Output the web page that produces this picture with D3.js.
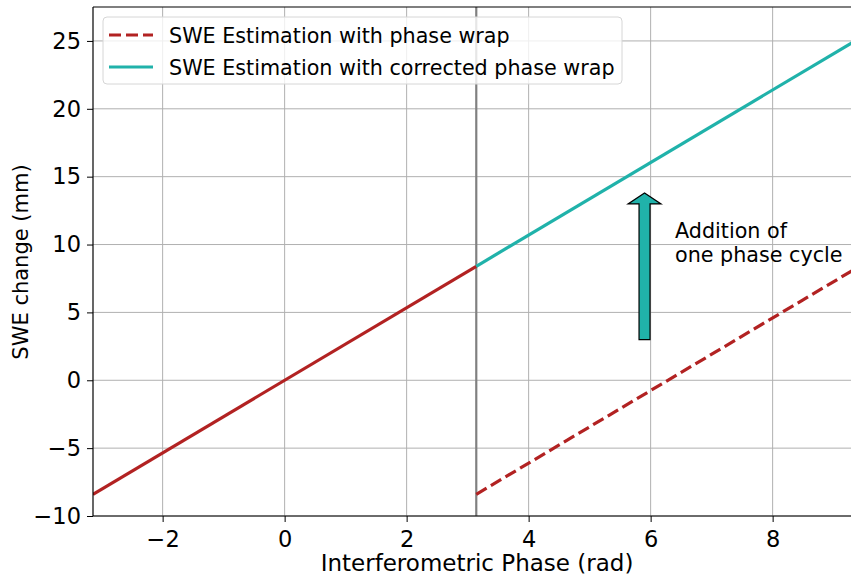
<!DOCTYPE html>
<html>
<head>
<meta charset="utf-8">
<script src="https://cdn.jsdelivr.net/npm/d3@7"></script>
<style>
body{margin:0;background:#fff;}
text{font-family:"DejaVu Sans",sans-serif;fill:#000;}
</style>
</head>
<body>
<script>
// data
var xTicks = [-2, 0, 2, 4, 6, 8];
var yTicks = [-10, -5, 0, 5, 10, 15, 20, 25];
var wrapPhase = Math.PI;
var unwrappedX = [-Math.PI, Math.PI];
var unwrappedY = [-8.4, 8.4];
var correctedX = [Math.PI, 3 * Math.PI];
var correctedY = [8.4, 25.2];
var wrappedX = [Math.PI, 3 * Math.PI];
var wrappedY = [-8.4, 8.4];
var arrowX = 5.9, arrowFrom = 3.0, arrowTo = 13.8;
var noteLines = ["Addition of", "one phase cycle"];
var legendNames = ["SWE Estimation with phase wrap", "SWE Estimation with corrected phase wrap"];

var red = "#b22222", teal = "#20b2aa";

var drawChart = () => {
  const w = 851, h = 576;
  const left = 93, top = 7, bottom = 516;
  var x = d3.scaleLinear().domain([-Math.PI, 3 * Math.PI]).range([left, left + 61 * 4 * Math.PI]);
  var y = d3.scaleLinear().domain([-10, 27.5]).range([bottom, top]);

  var svg = d3.select("body").append("svg").attr("width", w).attr("height", h);

  svg.append("defs").append("clipPath").attr("id", "clip")
    .append("rect").attr("x", left).attr("y", top).attr("width", x.range()[1] - left).attr("height", bottom - top);

  // grid
  var grid = svg.append("g");
  grid.selectAll(".gx").data(xTicks).enter().append("line")
    .attr("x1", d => x(d)).attr("x2", d => x(d)).attr("y1", top).attr("y2", bottom)
    .attr("stroke", "#b0b0b0").attr("stroke-width", 1);
  grid.selectAll(".gy").data(yTicks).enter().append("line")
    .attr("x1", left).attr("x2", w).attr("y1", d => y(d)).attr("y2", d => y(d))
    .attr("stroke", "#b0b0b0").attr("stroke-width", 1);

  var plot = svg.append("g").attr("clip-path", "url(#clip)");
  var line = d3.line().x(d => x(d[0])).y(d => y(d[1]));

  plot.append("line").attr("x1", x(wrapPhase)).attr("x2", x(wrapPhase))
    .attr("y1", top).attr("y2", bottom).attr("stroke", "#808080").attr("stroke-width", 2.2);

  plot.append("path").datum(d3.zip(unwrappedX, unwrappedY)).attr("d", line)
    .attr("fill", "none").attr("stroke", red).attr("stroke-width", 3.2);
  plot.append("path").datum(d3.zip(correctedX, correctedY)).attr("d", line)
    .attr("fill", "none").attr("stroke", teal).attr("stroke-width", 3.2);
  plot.append("path").datum(d3.zip(wrappedX, wrappedY)).attr("d", line)
    .attr("fill", "none").attr("stroke", red).attr("stroke-width", 3.2)
    .attr("stroke-dasharray", "12,5");

  // arrow
  var ax = x(arrowX), ay0 = y(arrowFrom), ay1 = y(arrowTo);
  var sw = 5.5, hw = 16.5, hl = 11;
  svg.append("path")
    .attr("d", `M${ax - sw},${ay0} L${ax - sw},${ay1 + hl} L${ax - hw},${ay1 + hl} L${ax},${ay1} L${ax + hw},${ay1 + hl} L${ax + sw},${ay1 + hl} L${ax + sw},${ay0} Z`)
    .attr("fill", teal).attr("stroke", "#000").attr("stroke-width", 1.2);

  svg.selectAll(".note").data(noteLines).enter().append("text")
    .attr("x", x(6.4)).attr("y", (d, i) => 238 + i * 23.5)
    .attr("font-size", "20.7px").text(d => d);

  // axes
  var xAxis = svg.append("g").attr("transform", `translate(0,${bottom})`)
    .call(d3.axisBottom(x).tickValues(xTicks).tickSize(6).tickPadding(6).tickFormat(d => d < 0 ? "\u2212" + (-d) : d));
  var yAxis = svg.append("g").attr("transform", `translate(${left},0)`)
    .call(d3.axisLeft(y).tickValues(yTicks).tickSize(6).tickPadding(6).tickFormat(d => d < 0 ? "\u2212" + (-d) : d));
  [xAxis, yAxis].forEach(a => {
    a.select(".domain").remove();
    a.selectAll("text").attr("font-size", "22.5px").attr("font-family", "DejaVu Sans").attr("fill", "#000");
    a.selectAll("line").attr("stroke", "#000").attr("stroke-width", 1);
  });
  xAxis.selectAll("text").attr("dy", "0.85em");

  // spines
  svg.append("line").attr("x1", left).attr("x2", left).attr("y1", top).attr("y2", bottom).attr("stroke", "#000").attr("stroke-width", 1.2);
  svg.append("line").attr("x1", left).attr("x2", w).attr("y1", bottom).attr("y2", bottom).attr("stroke", "#000").attr("stroke-width", 1.2);
  svg.append("line").attr("x1", left).attr("x2", w).attr("y1", top).attr("y2", top).attr("stroke", "#000").attr("stroke-width", 1.2);

  svg.append("text").attr("x", 477).attr("y", 571).attr("text-anchor", "middle")
    .attr("font-size", "23px").text("Interferometric Phase (rad)");
  svg.append("text").attr("transform", "translate(28,262) rotate(-90)").attr("text-anchor", "middle")
    .attr("font-size", "21px").text("SWE change (mm)");

  // legend
  var lg = svg.append("g");
  lg.append("rect").attr("x", 103).attr("y", 17).attr("width", 519).attr("height", 67).attr("rx", 4)
    .attr("fill", "#fff").attr("fill-opacity", 0.8).attr("stroke", "#d6d6d6");
  var items = lg.selectAll(".item").data(legendNames).enter().append("g")
    .attr("transform", (d, i) => `translate(0,${35 + i * 32})`);
  items.append("line").attr("x1", 109).attr("x2", 153).attr("y1", 0).attr("y2", 0)
    .attr("stroke", (d, i) => i === 0 ? red : teal).attr("stroke-width", 3.2)
    .attr("stroke-dasharray", (d, i) => i === 0 ? "12,5" : null);
  items.append("text").attr("x", 169).attr("y", 7.5).attr("font-size", "20.7px").text(d => d);
};

drawChart();
</script>
</body>
</html>
